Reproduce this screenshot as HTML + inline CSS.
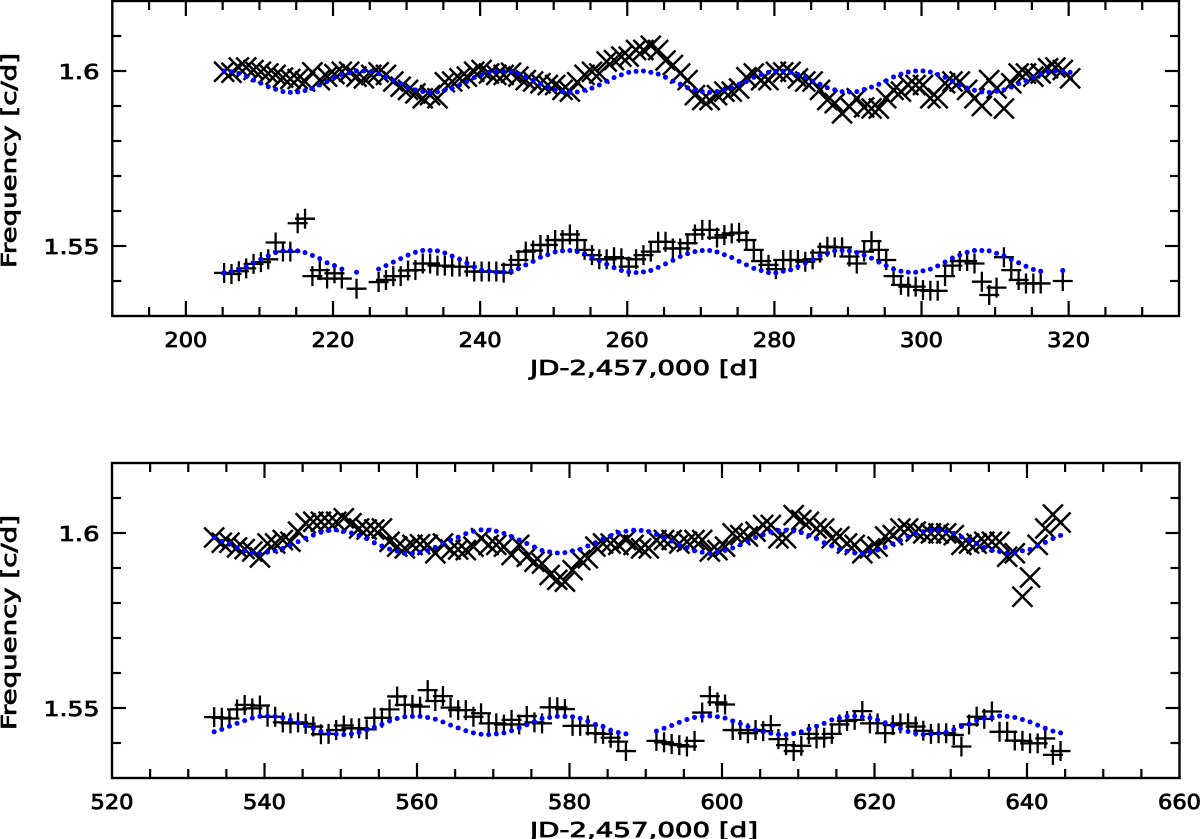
<!DOCTYPE html>
<html lang="en">
<head>
<meta charset="utf-8">
<title>Frequency vs JD</title>
<style>
html,body{margin:0;padding:0;background:#fff;}
svg{display:block;}
text{font-family:"DejaVu Sans","Liberation Sans",sans-serif;font-size:20.6px;fill:#000;stroke:#000;stroke-width:.8px;}
</style>
</head>
<body>
<svg id="chart" xmlns="http://www.w3.org/2000/svg" width="1200" height="839" viewBox="0 0 1200 839">
  <g>
    <text x="644" y="375" text-anchor="middle" textLength="228" lengthAdjust="spacingAndGlyphs">JD-2,457,000 [d]</text>
    <text transform="translate(16,160.5) rotate(-90)" text-anchor="middle" textLength="215" lengthAdjust="spacingAndGlyphs">Frequency [c/d]</text>
  </g>
  <g>
    <text x="644" y="837" text-anchor="middle" textLength="228" lengthAdjust="spacingAndGlyphs">JD-2,457,000 [d]</text>
    <text transform="translate(16,622.5) rotate(-90)" text-anchor="middle" textLength="215" lengthAdjust="spacingAndGlyphs">Frequency [c/d]</text>
  </g>
</svg>
<script>
const topFirstDay = 205.2;
const bottomFirstDay = 533.4;
const topXTicks = [200,220,240,260,280,300,320];
const bottomXTicks = [520,540,560,580,600,620,640,660];
const yTicks = [1.55,1.6];
const yTickLabels = ['1.55','1.6'];

const topUpperModel = [1.6000,1.5998,1.5993,1.5984,1.5974,1.5965,1.5955,1.5948,1.5941,1.5939,
1.5940,1.5944,1.5950,1.5960,1.5970,1.5981,1.5989,1.5995,1.6000,1.6000,
1.5998,1.5992,1.5983,1.5973,1.5964,1.5953,1.5946,1.5941,1.5939,1.5940,
1.5945,1.5950,1.5960,1.5970,1.5981,1.5989,1.5996,1.5999,1.5999,1.5998,
1.5992,1.5983,1.5973,1.5963,1.5953,1.5946,1.5941,1.5939,1.5940,1.5945,
1.5951,1.5960,1.5971,1.5981,1.5989,1.5996,1.5999,
1.6000,1.5996,1.5991,1.5982,1.5971,1.5962,1.5952,1.5945,1.5941,1.5939,
1.5941,1.5946,1.5952,1.5962,1.5970,1.5982,1.5990,1.5996,1.5999,1.6000,
1.5996,1.5990,1.5982,1.5971,1.5962,1.5952,1.5946,1.5941,1.5940,1.5941,
1.5947,1.5954,1.5962,1.5972,1.5983,1.5991,1.5997,1.6000,1.6000,1.5997,
1.5990,1.5982,1.5971,1.5960,1.5951,1.5945,1.5940,1.5939,1.5942,1.5946,
1.5954,1.5964,1.5972,1.5983,1.5991,1.5998,1.6000,1.5999,1.5996];

const topUpperObserved = [1.5998,1.5995,1.6010,1.6010,1.6003,1.5998,1.5993,1.5989,1.5981,1.5977,
1.5977,1.5970,1.5996,1.5974,1.5984,1.5991,1.5998,1.5998,1.5984,1.5979,
1.5989,1.5996,1.5989,1.5970,1.5955,1.5946,1.5936,1.5922,1.5931,1.5922,
1.5968,1.5970,1.5979,1.5984,1.5998,1.6003,1.5993,1.5989,1.5989,1.5995,
1.5984,1.5974,1.5970,1.5965,1.5960,1.5960,1.5946,1.5941,1.5968,1.5989,
1.5998,1.5993,1.6027,1.6031,1.6041,1.6041,1.6060,
1.6060,1.6072,1.6060,1.6030,1.6017,1.5993,1.5974,1.5931,1.5917,1.5917,
1.5931,1.5941,1.5941,1.5950,1.5982,1.5993,1.5974,1.5974,1.5998,1.5996,
1.5998,1.5979,1.5970,1.5970,1.5946,1.5917,1.5908,1.5879,1.5898,1.5922,
1.5896,1.5893,1.5893,1.5922,1.5946,1.5941,1.5960,1.5960,1.5960,1.5922,
1.5922,1.5965,1.5970,1.5970,1.5946,1.5922,1.5900,1.5974,1.5950,1.5893,
1.5965,1.5993,1.5993,1.5984,1.5993,1.6008,1.6010,1.6003,1.5979];

const topLowerModel = [1.5424,1.5427,1.5432,1.5441,1.5451,1.5462,1.5472,1.5481,1.5486,1.5487,
1.5486,1.5481,1.5473,1.5464,1.5452,1.5444,1.5434,null,1.5425,null,
null,1.5434,1.5444,1.5454,1.5464,1.5474,1.5482,1.5487,1.5487,1.5486,
1.5480,1.5471,1.5462,1.5451,1.5440,1.5431,1.5428,1.5425,1.5425,1.5429,
1.5435,1.5446,1.5456,1.5468,1.5475,1.5483,1.5486,1.5487,1.5484,1.5478,
1.5469,1.5458,1.5448,1.5438,1.5430,1.5426,1.5424,
1.5426,1.5430,1.5439,1.5449,1.5459,1.5470,1.5478,1.5484,1.5487,1.5487,
1.5483,1.5475,1.5467,1.5456,1.5446,1.5436,1.5430,1.5424,1.5423,1.5428,
1.5432,1.5441,1.5451,1.5461,1.5472,1.5479,1.5486,1.5487,1.5486,1.5481,
1.5474,1.5465,1.5454,1.5444,1.5434,1.5428,1.5425,1.5425,1.5429,1.5434,
1.5443,1.5454,1.5465,1.5474,1.5482,1.5487,1.5487,1.5486,1.5479,1.5472,
1.5462,1.5452,1.5442,1.5433,1.5428,null,null,1.5430];

const topLowerObserved = [1.5423,1.5420,1.5428,1.5436,1.5449,1.5454,1.5462,1.5510,1.5484,1.5484,
1.5565,1.5578,1.5414,1.5431,1.5407,1.5422,1.5407,null,1.5378,null,
null,1.5397,1.5403,1.5414,1.5414,1.5430,1.5431,1.5450,1.5450,1.5444,
1.5444,1.5441,1.5441,1.5441,1.5427,1.5427,1.5427,1.5427,1.5424,1.5446,
1.5460,1.5484,1.5487,1.5503,1.5503,1.5517,1.5517,1.5533,1.5517,1.5489,
1.5474,1.5462,1.5462,1.5468,1.5465,1.5441,1.5462,
1.5474,1.5484,1.5512,1.5512,1.5493,1.5493,1.5508,1.5533,1.5546,1.5546,
1.5524,1.5531,1.5536,1.5538,1.5517,1.5489,1.5457,1.5446,1.5434,1.5460,
1.5460,1.5460,1.5455,1.5462,1.5481,1.5498,1.5496,1.5496,1.5470,1.5450,
1.5484,1.5514,1.5489,1.5460,1.5414,1.5389,1.5384,1.5384,1.5374,1.5372,
1.5372,1.5414,1.5444,1.5457,1.5457,1.5450,1.5398,1.5360,1.5381,1.5468,
1.5431,1.5403,1.5393,1.5393,1.5393,null,null,1.5400];

const bottomUpperModel = [1.5987,1.5976,1.5968,1.5958,1.5949,1.5944,1.5941,1.5945,1.5949,1.5956,
1.5966,1.5975,1.5985,1.5994,1.6002,1.6007,1.6009,1.6005,1.6000,1.5993,
1.5984,1.5972,1.5963,1.5954,1.5948,1.5943,1.5942,1.5945,1.5950,1.5959,
1.5970,1.5980,1.5988,1.5998,1.6005,1.6009,1.6008,1.6005,1.5999,1.5990,
1.5980,1.5970,1.5960,1.5950,1.5946,1.5943,1.5944,1.5949,1.5953,1.5963,
1.5972,1.5983,1.5992,1.6001,1.6005,1.6008,1.6007,1.6004,1.5996,1.5987,
1.5977,1.5966,1.5958,1.5949,1.5945,1.5942,1.5945,1.5950,1.5957,1.5966,
1.5976,1.5987,1.5995,1.6003,1.6007,1.6008,1.6006,1.6001,1.5993,1.5984,
1.5972,1.5963,1.5953,1.5948,1.5943,1.5942,1.5946,1.5951,1.5959,1.5969,
1.5979,1.5990,1.5999,1.6004,1.6008,1.6009,1.6004,1.5999,1.5989,1.5979,
1.5970,1.5959,1.5950,1.5947,1.5943,1.5944,1.5949,1.5953,1.5963,1.5973,
1.5984,1.5993];

const bottomUpperObserved = [1.5987,1.5972,1.5972,1.5959,1.5954,1.5947,1.5930,1.5970,1.5970,1.5980,
1.5975,1.6004,1.6028,1.6032,1.6032,1.6032,1.6032,1.6042,1.6028,1.6013,
1.6010,1.6010,1.6013,1.5975,1.5961,1.5956,1.5966,1.5968,1.5966,1.5942,
1.5970,1.5953,1.5953,1.5951,1.5961,1.5985,1.5966,1.5966,1.5961,1.5937,
1.5966,1.5932,1.5918,1.5913,1.5880,1.5866,1.5861,1.5894,1.5923,1.5928,
1.5961,1.5970,1.5970,1.5966,1.5980,1.5966,1.5956,1.5956,1.5980,1.5980,
1.5980,1.5970,1.5975,1.5980,1.5980,1.5947,1.5951,1.5961,1.5999,1.5994,
1.5990,1.6004,1.6023,1.6023,1.5985,1.5985,1.6051,1.6037,1.6032,1.6013,
1.6013,1.5985,1.5990,1.5970,1.5966,1.5942,1.5956,1.5961,1.5990,1.5994,
1.6013,1.6013,1.6004,1.5999,1.5999,1.5999,1.5999,1.5994,1.5966,1.5970,
1.5970,1.5975,1.5975,1.5975,1.5932,1.5942,1.5818,1.5873,1.5966,1.6013,
1.6053,1.6030];

const bottomLowerModel = [1.5432,1.5439,1.5448,1.5456,1.5464,1.5471,1.5476,1.5477,1.5476,1.5472,
1.5466,1.5458,1.5449,1.5442,1.5433,1.5428,1.5425,1.5424,1.5426,1.5430,
1.5437,1.5445,1.5453,1.5463,1.5470,1.5475,1.5476,1.5476,1.5473,1.5468,
1.5460,1.5451,1.5443,1.5435,1.5429,1.5425,1.5424,1.5426,1.5429,1.5435,
1.5443,1.5452,1.5461,1.5470,1.5473,1.5476,1.5476,1.5475,1.5470,1.5462,
1.5453,1.5447,1.5436,1.5430,1.5426,null,null,null,
1.5434,1.5442,1.5450,1.5459,1.5467,1.5473,1.5476,1.5477,1.5475,1.5471,
1.5463,1.5455,1.5447,1.5438,1.5432,1.5428,1.5424,1.5424,1.5427,1.5432,
1.5440,1.5448,1.5456,1.5466,1.5471,1.5476,1.5477,1.5475,1.5472,1.5466,
1.5458,1.5449,1.5441,1.5433,1.5427,1.5424,1.5425,1.5428,1.5431,1.5438,
1.5447,1.5454,1.5464,1.5470,1.5474,1.5477,1.5476,1.5473,1.5467,1.5460,
1.5451,1.5442,1.5434,1.5429];

const bottomLowerObserved = [1.5474,1.5472,1.5470,1.5496,1.5509,1.5499,1.5507,1.5475,1.5475,1.5459,
1.5456,1.5459,1.5455,1.5447,1.5425,1.5426,1.5437,1.5450,1.5442,1.5442,
1.5439,1.5472,1.5472,1.5496,1.5533,1.5509,1.5509,1.5504,1.5551,1.5520,
1.5534,1.5501,1.5494,1.5494,1.5475,1.5485,1.5456,1.5456,1.5453,1.5466,
1.5453,1.5477,1.5459,1.5456,1.5502,1.5502,1.5497,1.5449,1.5449,1.5450,
1.5428,1.5426,1.5415,1.5404,1.5377,null,null,null,
1.5406,1.5402,1.5397,1.5394,1.5390,1.5406,1.5487,1.5534,1.5516,1.5510,
1.5437,1.5437,1.5428,1.5437,1.5434,1.5451,1.5411,1.5394,1.5377,1.5392,
1.5426,1.5413,1.5415,1.5426,1.5453,1.5463,1.5466,1.5491,1.5456,1.5456,
1.5428,1.5451,1.5456,1.5456,1.5447,1.5435,1.5426,1.5428,1.5428,1.5423,
1.5390,1.5453,1.5475,1.5469,1.5490,1.5432,1.5432,1.5407,1.5406,1.5399,
1.5399,1.5413,1.5366,1.5377];

const svgNS = 'http://www.w3.org/2000/svg';
const root = document.getElementById('chart');
const LINE = 'stroke:#000;fill:none;stroke-linecap:butt';

function line(parent, x1, y1, x2, y2, w) {
  const el = document.createElementNS(svgNS, 'line');
  el.setAttribute('x1', x1);
  el.setAttribute('y1', y1);
  el.setAttribute('x2', x2);
  el.setAttribute('y2', y2);
  el.setAttribute('style', LINE + ';stroke-width:' + w);
  
  
  parent.appendChild(el);
  return el;
}

function drawPanel(cfg) {
  const g = document.createElementNS(svgNS, 'g');
  
  
  root.appendChild(g);

  const sx = v => cfg.left + (v - cfg.xMin) * (cfg.right - cfg.left) / (cfg.xMax - cfg.xMin);
  const sy = v => cfg.bottom - (v - 1.53) * (cfg.bottom - cfg.top) / (1.62 - 1.53);

  // frame
  const frame = document.createElementNS(svgNS, 'rect');
  frame.setAttribute('x', cfg.left);
  frame.setAttribute('y', cfg.top);
  frame.setAttribute('width', cfg.right - cfg.left);
  frame.setAttribute('height', cfg.bottom - cfg.top);
  frame.setAttribute('style', LINE + ';stroke-width:2.4');
  
  
  g.appendChild(frame);

  // x ticks
  for (let v = cfg.xMin; v <= cfg.xMax + 0.001; v += 5) {
    if (v === cfg.xMin || v >= cfg.xMax) continue;
    const major = cfg.xTicks.includes(v);
    const len = major ? 15 : 9;
    line(g, sx(v), cfg.bottom, sx(v), cfg.bottom - len, 2.2);
    line(g, sx(v), cfg.top, sx(v), cfg.top + len, 2.2);
  }
  cfg.xTicks.forEach(v => {
    const t = document.createElementNS(svgNS, 'text');
    t.setAttribute('x', sx(v));
    t.setAttribute('y', cfg.bottom + 31);
    t.setAttribute('text-anchor', 'middle');
    t.setAttribute('textLength', 43);
    t.setAttribute('lengthAdjust', 'spacingAndGlyphs');
    
    
    t.textContent = String(v);
    g.appendChild(t);
  });

  // y ticks
  for (let k = 154; k <= 161; k++) {
    const v = k / 100;
    const major = (k === 155 || k === 160);
    const len = major ? 14 : 9;
    line(g, cfg.left, sy(v), cfg.left + len, sy(v), 2.2);
    line(g, cfg.right, sy(v), cfg.right - len, sy(v), 2.2);
  }
  yTicks.forEach((v, i) => {
    const t = document.createElementNS(svgNS, 'text');
    t.setAttribute('x', 99.5);
    t.setAttribute('y', sy(v) + 8);
    t.setAttribute('text-anchor', 'end');
    t.setAttribute('textLength', yTickLabels[i].length === 4 ? 56 : 41);
    t.setAttribute('lengthAdjust', 'spacingAndGlyphs');
    
    
    t.textContent = yTickLabels[i];
    g.appendChild(t);
  });

  // observed X marks
  cfg.upperObserved.forEach((f, i) => {
    if (f === null) return;
    const x = sx(cfg.firstDay + i), y = sy(f);
    const p = document.createElementNS(svgNS, 'path');
    p.setAttribute('d', 'M' + (x - 10) + ' ' + (y - 10) + 'L' + (x + 10) + ' ' + (y + 10) + 'M' + (x - 10) + ' ' + (y + 10) + 'L' + (x + 10) + ' ' + (y - 10));
    p.setAttribute('style', LINE + ';stroke-width:2.5');
    
    
    g.appendChild(p);
  });

  // observed + marks
  cfg.lowerObserved.forEach((f, i) => {
    if (f === null) return;
    const x = sx(cfg.firstDay + i), y = sy(f);
    const p = document.createElementNS(svgNS, 'path');
    p.setAttribute('d', 'M' + (x - 10) + ' ' + y + 'L' + (x + 10) + ' ' + y + 'M' + x + ' ' + (y - 10) + 'L' + x + ' ' + (y + 10));
    p.setAttribute('style', LINE + ';stroke-width:2.3');
    
    
    g.appendChild(p);
  });

  // model dots
  [cfg.upperModel, cfg.lowerModel].forEach(series => {
    series.forEach((f, i) => {
      if (f === null) return;
      const c = document.createElementNS(svgNS, 'circle');
      c.setAttribute('cx', sx(cfg.firstDay + i));
      c.setAttribute('cy', sy(f));
      c.setAttribute('r', 2.5);
      c.setAttribute('fill', '#0000ff');
      
      
      g.appendChild(c);
    });
  });
}

drawPanel({
  name: 'top', left: 112.3, right: 1179, top: 1, bottom: 316,
  xMin: 190, xMax: 335, xTicks: topXTicks, firstDay: topFirstDay,
  upperObserved: topUpperObserved, lowerObserved: topLowerObserved,
  upperModel: topUpperModel, lowerModel: topLowerModel
});
drawPanel({
  name: 'bottom', left: 112, right: 1179.5, top: 463, bottom: 778,
  xMin: 520, xMax: 660, xTicks: bottomXTicks, firstDay: bottomFirstDay,
  upperObserved: bottomUpperObserved, lowerObserved: bottomLowerObserved,
  upperModel: bottomUpperModel, lowerModel: bottomLowerModel
});
</script>
</body>
</html>
